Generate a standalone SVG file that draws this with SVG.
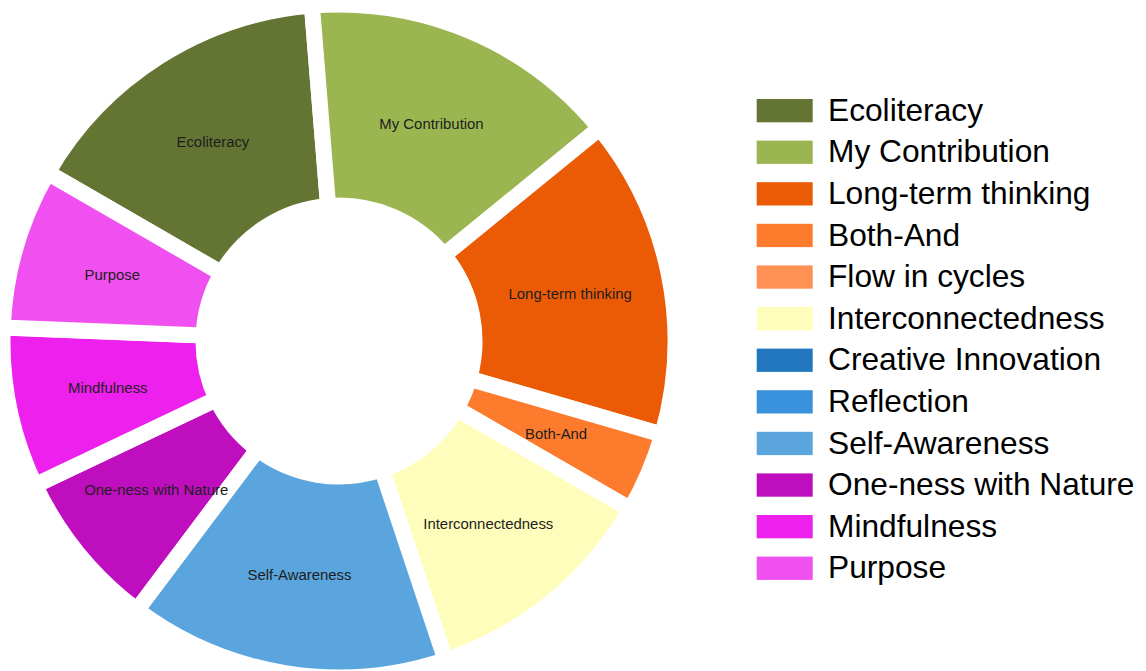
<svg xmlns="http://www.w3.org/2000/svg" width="1146" height="671" viewBox="0 0 1146 671">
<style>
.seg{stroke:#fff;stroke-width:16;stroke-linejoin:miter}
.lbl{font-family:"Liberation Sans",Arial,sans-serif;font-size:14.9px;fill:#1e1e1e;text-anchor:middle}
.leg{font-family:"Liberation Sans",Arial,sans-serif;font-size:31.7px;fill:#000}
</style>
<rect width="1146" height="671" fill="#fff"/>
<g id="donut">
<g id="seg-ecoliteracy"><path class="seg" fill="#647533" d="M47.59,172.75 A336.5,336.5 0 0 1 311.92,5.59 L328.10,205.94 A135.5,135.5 0 0 0 221.65,273.25 Z"/></g>
<g id="seg-my-contribution"><path class="seg" fill="#9BB650" d="M311.92,5.59 A336.5,336.5 0 0 1 599.66,128.18 L443.96,255.30 A135.5,135.5 0 0 0 328.10,205.94 Z"/></g>
<g id="seg-long-term-thinking"><path class="seg" fill="#EB5B05" d="M599.66,128.18 A336.5,336.5 0 0 1 662.21,434.62 L469.15,378.70 A135.5,135.5 0 0 0 443.96,255.30 Z"/></g>
<g id="seg-both-and"><path class="seg" fill="#FD7B2D" d="M662.21,434.62 A336.5,336.5 0 0 1 630.41,509.25 L456.35,408.75 A135.5,135.5 0 0 0 469.15,378.70 Z"/></g>
<g id="seg-interconnectedness"><path class="seg" fill="#FFFDBB" d="M630.41,509.25 A336.5,336.5 0 0 1 445.56,660.18 L381.91,469.53 A135.5,135.5 0 0 0 456.35,408.75 Z"/></g>
<g id="seg-self-awareness"><path class="seg" fill="#5BA5DF" d="M445.56,660.18 A336.5,336.5 0 0 1 136.85,610.01 L257.60,449.32 A135.5,135.5 0 0 0 381.91,469.53 Z"/></g>
<g id="seg-one-ness"><path class="seg" fill="#BE0EBE" d="M136.85,610.01 A336.5,336.5 0 0 1 34.99,485.25 L216.58,399.09 A135.5,135.5 0 0 0 257.60,449.32 Z"/></g>
<g id="seg-mindfulness"><path class="seg" fill="#EE20EE" d="M34.99,485.25 A336.5,336.5 0 0 1 2.77,327.45 L203.61,335.54 A135.5,135.5 0 0 0 216.58,399.09 Z"/></g>
<g id="seg-purpose"><path class="seg" fill="#F050F0" d="M2.77,327.45 A336.5,336.5 0 0 1 47.59,172.75 L221.65,273.25 A135.5,135.5 0 0 0 203.61,335.54 Z"/></g>
</g>
<g id="labels">
<text class="lbl" x="212.9" y="146.5">Ecoliteracy</text>
<text class="lbl" x="431.5" y="128.9">My Contribution</text>
<text class="lbl" x="570.2" y="298.8">Long-term thinking</text>
<text class="lbl" x="556.1" y="438.5">Both-And</text>
<text class="lbl" x="488.3" y="528.8">Interconnectedness</text>
<text class="lbl" x="299.5" y="580">Self-Awareness</text>
<text class="lbl" x="156.2" y="495.3">One-ness with Nature</text>
<text class="lbl" x="107.8" y="393.2">Mindfulness</text>
<text class="lbl" x="112.3" y="280.3">Purpose</text>
</g>
<g id="legend">
<g id="leg-ecoliteracy"><rect x="756.7" y="99" width="56" height="23.3" fill="#647533"/><text class="leg" x="828" y="120.7">Ecoliteracy</text></g>
<g id="leg-my-contribution"><rect x="756.7" y="140.6" width="56" height="23.3" fill="#9BB650"/><text class="leg" x="828" y="162.3">My Contribution</text></g>
<g id="leg-long-term-thinking"><rect x="756.7" y="182.2" width="56" height="23.3" fill="#EB5B05"/><text class="leg" x="828" y="203.9">Long-term thinking</text></g>
<g id="leg-both-and"><rect x="756.7" y="223.8" width="56" height="23.3" fill="#FD7B2D"/><text class="leg" x="828" y="245.5">Both-And</text></g>
<g id="leg-flow-in-cycles"><rect x="756.7" y="265.4" width="56" height="23.3" fill="#FF9155"/><text class="leg" x="828" y="287.1">Flow in cycles</text></g>
<g id="leg-interconnectedness"><rect x="756.7" y="307" width="56" height="23.3" fill="#FFFDBB"/><text class="leg" x="828" y="328.7">Interconnectedness</text></g>
<g id="leg-creative-innovation"><rect x="756.7" y="348.6" width="56" height="23.3" fill="#2277BE"/><text class="leg" x="828" y="370.3">Creative Innovation</text></g>
<g id="leg-reflection"><rect x="756.7" y="390.2" width="56" height="23.3" fill="#3A92DC"/><text class="leg" x="828" y="411.9">Reflection</text></g>
<g id="leg-self-awareness"><rect x="756.7" y="431.8" width="56" height="23.3" fill="#5BA5DF"/><text class="leg" x="828" y="453.5">Self-Awareness</text></g>
<g id="leg-one-ness"><rect x="756.7" y="473.4" width="56" height="23.3" fill="#BE0EBE"/><text class="leg" x="828" y="495.1">One-ness with Nature</text></g>
<g id="leg-mindfulness"><rect x="756.7" y="515" width="56" height="23.3" fill="#EE20EE"/><text class="leg" x="828" y="536.7">Mindfulness</text></g>
<g id="leg-purpose"><rect x="756.7" y="556.6" width="56" height="23.3" fill="#F050F0"/><text class="leg" x="828" y="578.3">Purpose</text></g>
</g>
</svg>
